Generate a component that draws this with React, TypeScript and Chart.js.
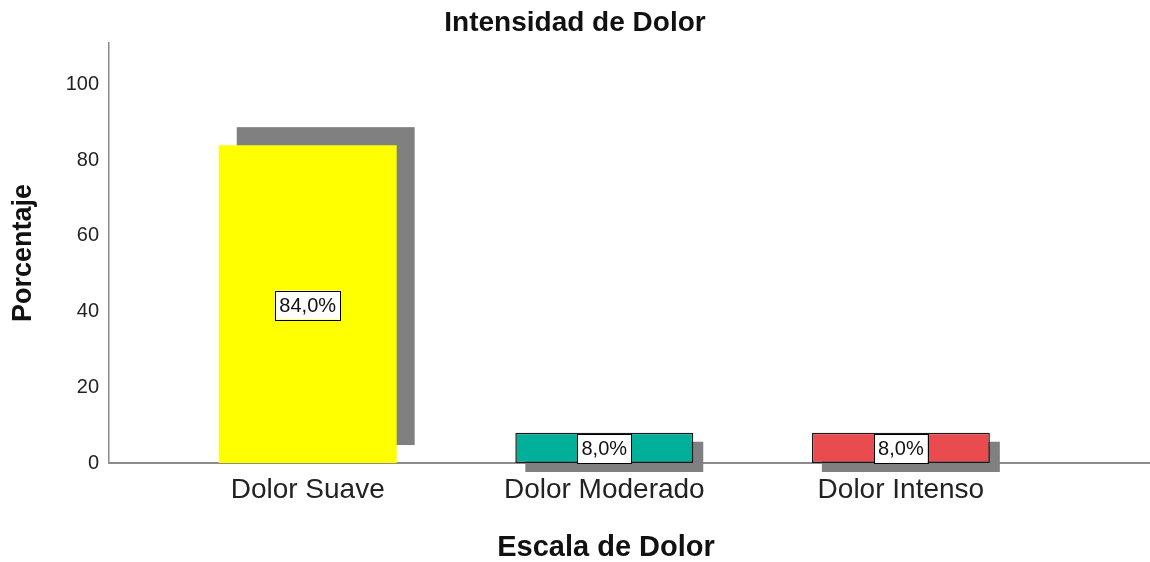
import React, { useEffect, useRef } from "react";
import { Chart, registerables } from "chart.js";

Chart.register(...registerables);

// ---- data ----
const categories = ["Dolor Suave", "Dolor Moderado", "Dolor Intenso"];
const categoryPositions = [1, 2, 3];
const percentages = [84.0, 8.0, 8.0];
const yTicks = [0, 20, 40, 60, 80, 100];

const chartTitle = "Intensidad de Dolor";
const xAxisTitle = "Escala de Dolor";
const yAxisTitle = "Porcentaje";

// ---- styles ----
const barColors = ["#ffff00", "#00b09b", "#ea4b4e"];
const barBorderWidths = [0, 1.5, 1.5];
const shadowOffsetX = [18, 10, 10];
const shadowOffsetY = [-18, 9, 9];
const FONT = "'Liberation Sans', Arial, Helvetica, sans-serif";
const AXIS_COLOR = "#8c8c8c";

const shadowPlugin = {
  id: "barShadow",
  beforeDatasetsDraw(chart: any) {
    const ctx = chart.ctx;
    const meta = chart.getDatasetMeta(0);
    ctx.save();
    ctx.fillStyle = "#808080";
    meta.data.forEach((bar: any, i: number) => {
      const { x, y, base, width } = bar.getProps(["x", "y", "base", "width"], true);
      ctx.fillRect(x - width / 2 + shadowOffsetX[i], y + shadowOffsetY[i], width, base - y);
    });
    ctx.restore();
  },
};

const labelPlugin = {
  id: "valueBoxes",
  afterDatasetsDraw(chart: any) {
    const ctx = chart.ctx;
    const meta = chart.getDatasetMeta(0);
    ctx.save();
    ctx.font = `20px ${FONT}`;
    ctx.textAlign = "center";
    ctx.textBaseline = "middle";
    meta.data.forEach((bar: any, i: number) => {
      const { x, y, base } = bar.getProps(["x", "y", "base"], true);
      const text = percentages[i].toFixed(1).replace(".", ",") + "%";
      const w = ctx.measureText(text).width + 8;
      const h = 29;
      const cy = (y + base) / 2 + 1;
      ctx.fillStyle = "#ffffff";
      ctx.fillRect(x - w / 2, cy - h / 2, w, h);
      ctx.strokeStyle = "#000000";
      ctx.lineWidth = 1;
      ctx.strokeRect(Math.round(x - w / 2) + 0.5, Math.round(cy - h / 2) + 0.5, Math.round(w), h);
      ctx.fillStyle = "#111111";
      ctx.fillText(text, x, cy + 1);
    });
    ctx.restore();
  },
};

const xTitlePlugin = {
  id: "xTitle",
  afterDraw(chart: any) {
    const ctx = chart.ctx;
    ctx.save();
    ctx.font = `bold 29px ${FONT}`;
    ctx.fillStyle = "#111111";
    ctx.textAlign = "center";
    ctx.textBaseline = "middle";
    ctx.fillText(xAxisTitle, 606, 548);
    ctx.restore();
  },
};

export default function App() {
  const canvasRef = useRef<HTMLCanvasElement | null>(null);

  useEffect(() => {
    if (!canvasRef.current) return;
    const chart = new Chart(canvasRef.current, {
      type: "bar",
      data: {
        datasets: [
          {
            data: categoryPositions.map((x, i) => ({ x, y: percentages[i] })),
            backgroundColor: barColors,
            borderColor: "#1a1a1a",
            borderWidth: barBorderWidths,
            borderSkipped: false,
            barPercentage: 0.6,
            categoryPercentage: 1,
          } as any,
        ],
      },
      options: {
        animation: false,
        responsive: false,
        devicePixelRatio: 1,
        layout: { padding: 0 },
        scales: {
          x: {
            type: "linear",
            min: 0.33,
            max: 3.84,
            offset: false,
            afterBuildTicks: (s: any) => {
              s.ticks = categoryPositions.map((v) => ({ value: v }));
            },
            afterFit: (s: any) => {
              s.height = 99;
            },
            ticks: {
              autoSkip: false,
              maxRotation: 0,
              padding: 10,
              color: "#222222",
              font: { family: FONT, size: 28 },
              callback: (v: any) => {
                const idx = categoryPositions.indexOf(Number(v));
                return idx >= 0 ? categories[idx] : "";
              },
            },
            grid: { display: false, drawTicks: false, offset: false },
            border: { display: true, color: AXIS_COLOR, width: 2 },
          },
          y: {
            min: 0,
            max: 111,
            afterBuildTicks: (s: any) => {
              s.ticks = yTicks.map((v) => ({ value: v }));
            },
            afterFit: (s: any) => {
              s.width = 109;
            },
            ticks: {
              padding: 10,
              color: "#222222",
              font: { family: FONT, size: 20 },
            },
            grid: { display: false, drawTicks: false },
            border: { display: true, color: AXIS_COLOR, width: 1.5 },
            title: {
              display: true,
              text: yAxisTitle,
              color: "#111111",
              font: { family: FONT, size: 27, weight: "bold" },
              padding: { top: 7, bottom: 0 },
            },
          },
        },
        plugins: {
          legend: { display: false },
          tooltip: { enabled: false },
          title: {
            display: true,
            text: chartTitle,
            color: "#111111",
            font: { family: FONT, size: 28, weight: "bold" },
            padding: { top: 6, bottom: 3.4 },
          },
        },
      } as any,
      plugins: [shadowPlugin, labelPlugin, xTitlePlugin],
    });
    return () => chart.destroy();
  }, []);

  return (
    <div style={{ position: "absolute", left: 0, top: 0, width: 1150, height: 562, background: "#ffffff" }}>
      <canvas ref={canvasRef} width={1150} height={562} style={{ display: "block" }} />
    </div>
  );
}
